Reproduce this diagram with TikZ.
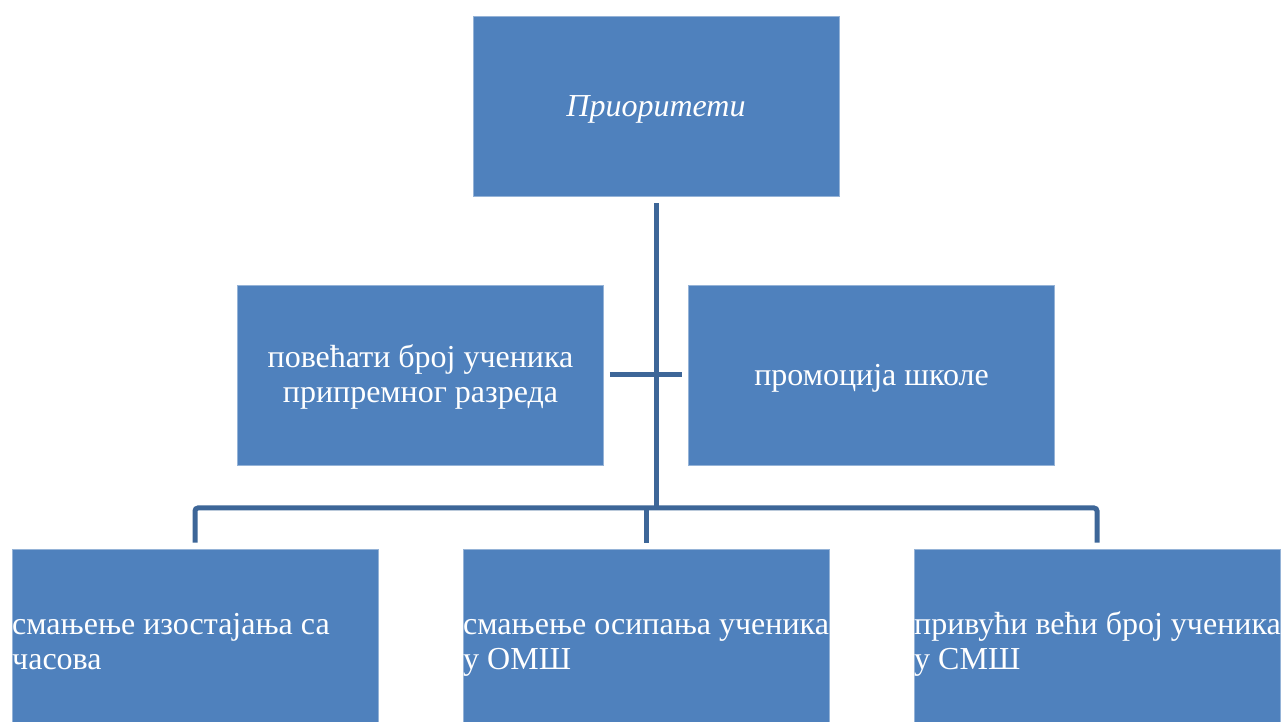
\documentclass[tikz,border=0pt]{standalone}
\usepackage{fontspec}
\setmainfont{Liberation Serif}
\definecolor{boxblue}{HTML}{4F81BD}
\definecolor{lineblue}{HTML}{3D6698}
\begin{document}
\begin{tikzpicture}[x=1pt,y=1pt,
  box/.style={fill=boxblue,draw=boxblue!60!white,line width=0.6pt,minimum width=366pt,minimum height=180pt,inner sep=0pt},
  lbl/.style={text=white,font=\fontsize{32}{35}\selectfont,align=center},
  leftlbl/.style={text=white,font=\fontsize{32}{35}\selectfont,align=left,anchor=west,inner sep=0pt},
  conn/.style={draw=lineblue,line width=5pt,rounded corners=3pt}]
\clip (0,0) rectangle (1282,722);
\fill[white] (0,0) rectangle (1282,722);
% boxes (y measured from bottom)
\node[box] (top) at (656,616) {};
\node[box] (ml) at (420.5,347) {};
\node[box] (mr) at (871.5,347) {};
\node[box] (bl) at (195,83) {};
\node[box] (bm) at (646,83) {};
\node[box] (br) at (1097,83) {};
% labels
\node[lbl,font=\fontsize{32}{35}\selectfont\itshape] (tt) at ([yshift=-3pt]top.center) {Приоритети};
\node[lbl] (mlt) at ([yshift=-2pt]ml.center) {повећати број ученика\\припремног разреда};
\node[lbl] (mrt) at ([yshift=-3pt]mr.center) {промоција школе};
\node[leftlbl] (blt) at (12,77) {\strut смањење изостајања са\\часова\strut};
\node[leftlbl] (bmt) at (463,77) {\strut смањење осипања ученика\\у ОМШ\strut};
\node[leftlbl] (brt) at (914,77) {\strut привући већи број ученика\\у СМШ\strut};
% connectors
\coordinate (hub) at (656,214);
\coordinate (hl) at (195,214);
\coordinate (hr) at (1097,214);
\coordinate (hm) at (646,214);
\draw[conn] ([yshift=-7pt]top.south) -- (hub);
\draw[conn] ([xshift=6pt]ml.east |- 0,347) -- ([xshift=-6pt]mr.west |- 0,347);
\draw[conn] ([yshift=6pt]bl.north) -- (hl) -- (hr) -- ([yshift=6pt]br.north);
\draw[conn] (hm) -- ([yshift=6pt]bm.north);
\end{tikzpicture}
\end{document}
